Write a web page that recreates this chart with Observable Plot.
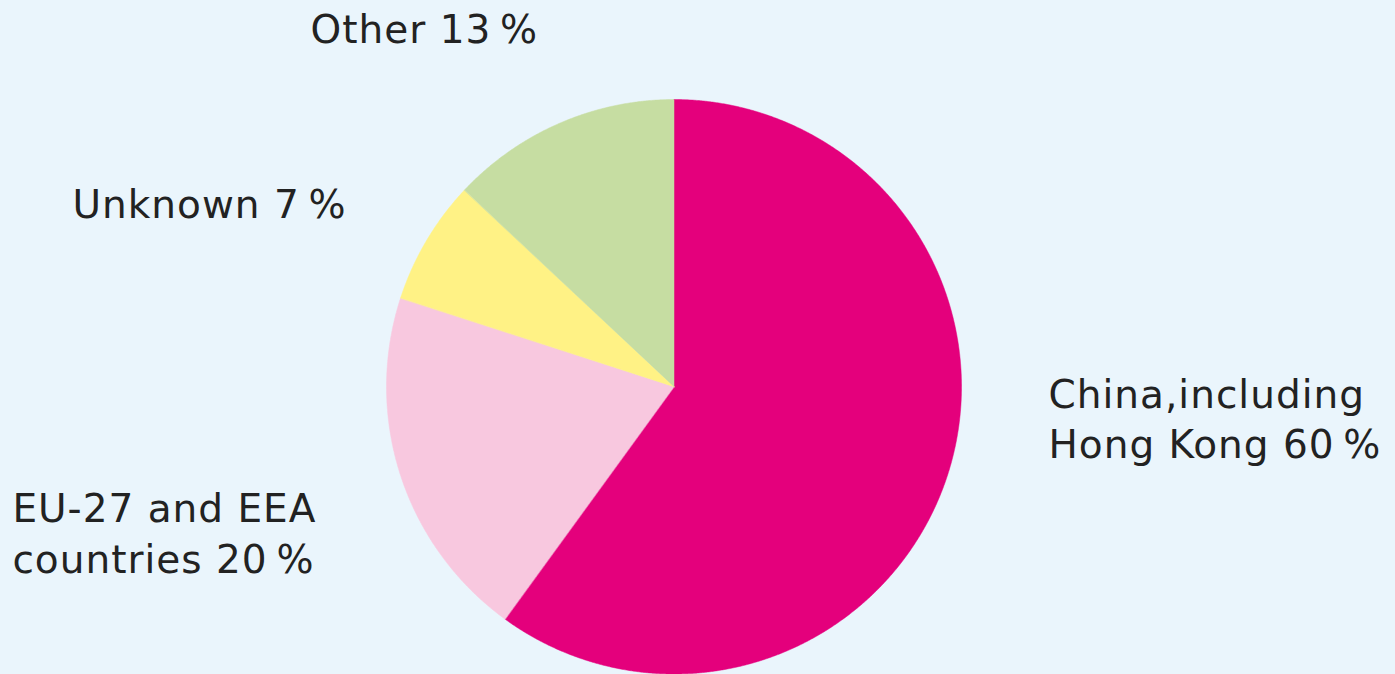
<!DOCTYPE html>
<html>
<head>
<meta charset="utf-8">
<script src="https://cdn.jsdelivr.net/npm/d3@7"></script>
<script src="https://cdn.jsdelivr.net/npm/@observablehq/plot@0.6"></script>
<style>
  html, body { margin: 0; padding: 0; background: #EAF5FC; }
  #chart svg { display: block; }
</style>
</head>
<body>
<div id="chart"></div>
<script>
// Data (clockwise from 12 o'clock)
const categories = ["China,including\nHong Kong", "EU-27 and EEA\ncountries", "Unknown", "Other"];
const shares = [60, 20, 7, 13];
const colors = ["#E4007C", "#F8C8DF", "#FFF285", "#C6DDA2"];

// Label layout (data units relative to pie centre, radius = 1)
const labelX = [1.301, -2.303, -2.094, -1.266];
const labelY = [-0.103, -0.502, 0.645, 1.255];

const fmtLabel = (name, v) => `${name} ${v}\u2009%`;

const pie = d3.pie().sort(null).value(d => d.value).startAngle(0).endAngle(2 * Math.PI);
const slices = pie(categories.map((name, i) => ({name, value: shares[i]})));

const points = [];
for (const s of slices) {
  const n = Math.max(2, Math.ceil((s.endAngle - s.startAngle) / (Math.PI / 720)));
  for (let k = 0; k <= n; k++) {
    const a = s.startAngle + (s.endAngle - s.startAngle) * k / n;
    points.push({name: s.data.name, x: Math.sin(a), y: Math.cos(a)});
  }
}

const labels = categories.map((name, i) => ({
  text: fmtLabel(name, shares[i]), x: labelX[i], y: labelY[i]
}));

const chart = Plot.plot({
  width: 1395,
  height: 674,
  marginLeft: 386.5,
  marginRight: 433.5,
  marginTop: 99.5,
  marginBottom: 0,
  style: {background: "#EAF5FC", fontFamily: "'DejaVu Sans', Verdana, sans-serif", overflow: "visible", letterSpacing: "1px"},
  x: {axis: null, domain: [-1, 1]},
  y: {axis: null, domain: [-1, 1]},
  color: {domain: categories, range: colors},
  marks: [
    Plot.area(points, {x1: "x", y1: "y", x2: d => 0, y2: d => 0, z: "name", fill: "name", stroke: "name", strokeWidth: 0.5}),
    Plot.text(labels, {
      x: "x", y: "y", text: "text",
      textAnchor: "start", lineAnchor: "middle", lineHeight: 1.3,
      fontSize: 39, fill: "#222"
    })
  ]
});
document.getElementById("chart").appendChild(chart);
</script>
</body>
</html>
